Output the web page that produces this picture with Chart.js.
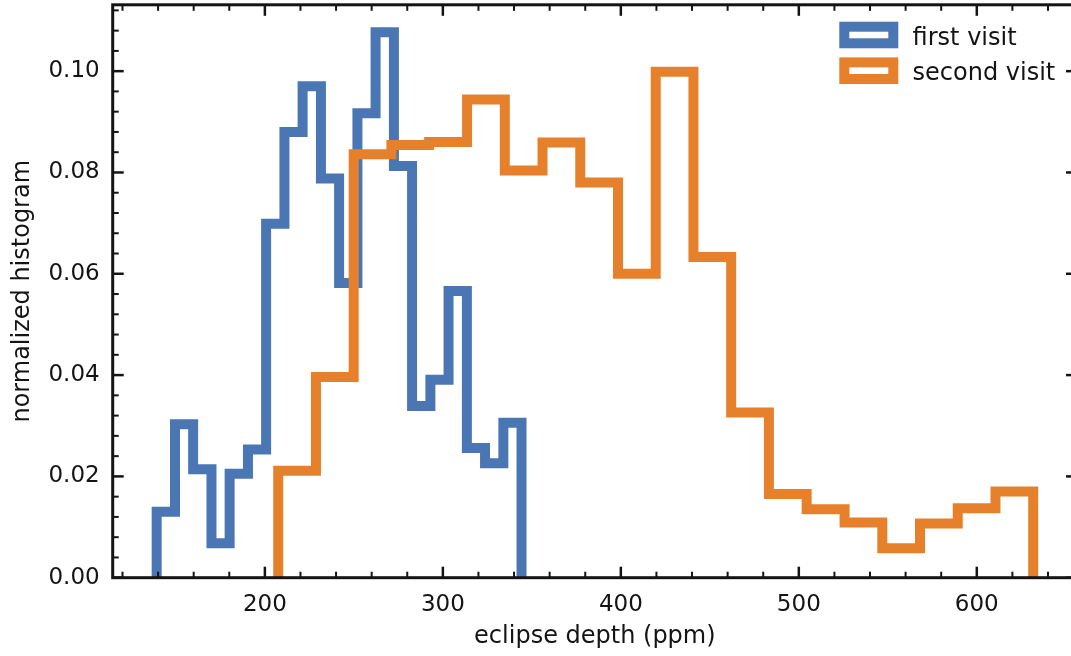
<!DOCTYPE html>
<html>
<head>
<meta charset="utf-8">
<script src="https://cdn.jsdelivr.net/npm/chart.js@4.4.1/dist/chart.umd.min.js"></script>
<style>
  html, body { margin: 0; padding: 0; background: #fff; overflow: hidden; }
  #wrap { width: 1071px; height: 656px; overflow: hidden; }
  canvas { display: block; }
</style>
</head>
<body>
<div id="wrap"><canvas id="hist" width="1090" height="656"></canvas></div>
<script>
// bin edges (ppm) and normalized heights
const firstEdges = [139.2, 149.5, 159.7, 170.0, 180.2, 190.5, 200.7, 211.0, 221.2, 231.5, 241.7,
  252.0, 262.2, 272.5, 282.7, 293.0, 303.2, 313.5, 323.7, 334.0, 344.2];
const firstHeights = [0.0130, 0.0303, 0.0214, 0.0068, 0.0205, 0.0253, 0.0699, 0.0880, 0.0970, 0.0788,
  0.0582, 0.0917, 0.1077, 0.0813, 0.0339, 0.0391, 0.0566, 0.0256, 0.0226, 0.0306];

const secondEdges = [207.5, 228.7, 249.9, 271.1, 292.3, 313.6, 334.8, 356.0, 377.2, 398.4, 419.6,
  440.8, 462.0, 483.2, 504.4, 525.7, 546.9, 568.1, 589.3, 610.5, 631.7];
const secondHeights = [0.0211, 0.0396, 0.0836, 0.0854, 0.0860, 0.0944, 0.0804, 0.0859, 0.0780, 0.0600,
  0.0999, 0.0633, 0.0326, 0.0165, 0.0135, 0.0109, 0.0058, 0.0107, 0.0137, 0.0170];

const xTicks = [200, 300, 400, 500, 600];
const yTicks = [0.00, 0.02, 0.04, 0.06, 0.08, 0.10];

const BLUE = '#4a77b3';
const ORANGE = '#e6802a';
const INK = '#141414';

// step outline like histtype='step': start and end on zero
function stepPoints(edges, heights) {
  const pts = [{ x: edges[0], y: 0 }];
  heights.forEach((h, i) => pts.push({ x: edges[i], y: h }));
  pts.push({ x: edges[edges.length - 1], y: 0 });
  return pts;
}

Chart.defaults.font.family = 'DejaVu Sans';
Chart.defaults.color = INK;

// frame, inward ticks on all four sides, and the legend
const framePlugin = {
  id: 'frame',
  afterDraw(chart) {
    const { ctx, chartArea: a, scales: { x, y } } = chart;
    ctx.save();
    ctx.strokeStyle = INK;

    const tick = (px, py, dx, dy, w) => {
      ctx.lineWidth = w;
      ctx.beginPath();
      ctx.moveTo(px, py);
      ctx.lineTo(px + dx, py + dy);
      ctx.stroke();
    };
    for (let v = 120; v <= 650; v += 20) {
      const major = xTicks.includes(v);
      const len = major ? 11 : 6, w = major ? 2.5 : 2;
      const px = x.getPixelForValue(v);
      tick(px, a.bottom, 0, -len, w);
      tick(px, a.top, 0, len, w);
    }
    for (let i = 0; i <= 28; i++) {
      const v = i * 0.004;
      const major = i % 5 === 0;
      const len = major ? 11 : 6, w = major ? 2.5 : 2;
      const py = y.getPixelForValue(v);
      tick(a.left, py, len, 0, w);
      tick(a.right, py, -len, 0, w);
    }

    ctx.lineWidth = 3;
    ctx.strokeRect(a.left, a.top, a.right - a.left, a.bottom - a.top);

    // legend
    const items = [
      { label: 'first visit', color: BLUE, cy: 35, base: 44.5 },
      { label: 'second visit', color: ORANGE, cy: 70.7, base: 80.2 },
    ];
    ctx.font = '24px "DejaVu Sans"';
    ctx.textBaseline = 'alphabetic';
    ctx.textAlign = 'left';
    items.forEach(it => {
      ctx.fillStyle = '#fff';
      ctx.strokeStyle = it.color;
      ctx.lineWidth = 10;
      ctx.lineJoin = 'miter';
      ctx.fillRect(844.3, it.cy - 8.3, 49, 16.6);
      ctx.strokeRect(844.3, it.cy - 8.3, 49, 16.6);
      ctx.fillStyle = INK;
      ctx.fillText(it.label, 912.6, it.base);
    });
    ctx.restore();
  }
};

new Chart(document.getElementById('hist'), {
  type: 'line',
  data: {
    datasets: [
      {
        label: 'first visit',
        data: stepPoints(firstEdges, firstHeights),
        borderColor: BLUE,
        order: 1,
      },
      {
        label: 'second visit',
        data: stepPoints(secondEdges, secondHeights),
        borderColor: ORANGE,
        order: 0,
      },
    ],
  },
  options: {
    responsive: false,
    animation: false,
    devicePixelRatio: 1,
    layout: { padding: { top: 4.8, right: 13, left: 0, bottom: 0 } },
    elements: {
      line: {
        stepped: true,
        borderWidth: 10,
        fill: false,
        borderJoinStyle: 'miter',
        borderCapStyle: 'butt',
      },
      point: { radius: 0, hoverRadius: 0 },
    },
    plugins: {
      legend: { display: false },
      tooltip: { enabled: false },
    },
    scales: {
      x: {
        type: 'linear',
        min: 114.5,
        max: 656.3,
        grid: { display: false, drawTicks: false },
        border: { display: false },
        afterBuildTicks(scale) { scale.ticks = xTicks.map(v => ({ value: v })); },
        afterFit(scale) {
          scale.height = 78.3;
          scale.paddingLeft = 0;
          scale.paddingRight = 0;
        },
        ticks: {
          padding: 14,
          font: { size: 23 },
          color: INK,
          maxRotation: 0,
          callback: v => String(v),
        },
        title: {
          display: true,
          text: 'eclipse depth (ppm)',
          font: { size: 24 },
          color: INK,
          padding: { top: 0, bottom: 5 },
        },
      },
      y: {
        min: 0,
        max: 0.1131,
        grid: { display: false, drawTicks: false },
        border: { display: false },
        afterBuildTicks(scale) { scale.ticks = yTicks.map(v => ({ value: v })); },
        afterFit(scale) {
          scale.width = 112.7;
          scale.paddingTop = 0;
          scale.paddingBottom = 0;
        },
        ticks: {
          padding: 13,
          font: { size: 23 },
          color: INK,
          callback: v => v.toFixed(2),
        },
        title: {
          display: true,
          text: 'normalized histogram',
          font: { size: 24 },
          color: INK,
          padding: { top: 8, bottom: 0 },
        },
      },
    },
  },
  plugins: [framePlugin],
});
</script>
</body>
</html>
